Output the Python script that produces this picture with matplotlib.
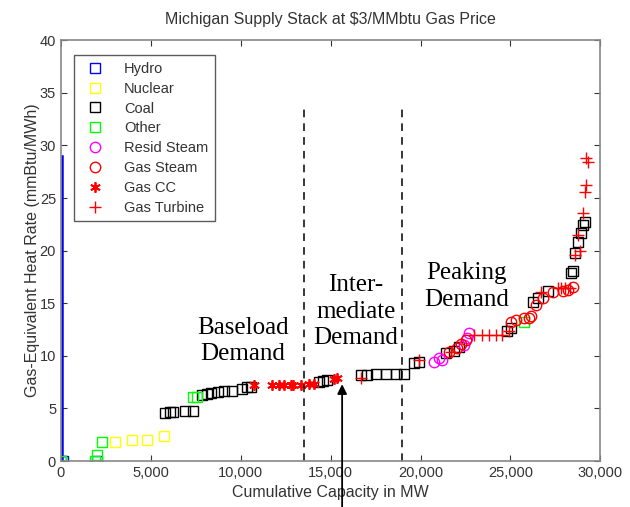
import matplotlib
matplotlib.use("Agg")
import matplotlib.pyplot as plt
from matplotlib.ticker import FuncFormatter

# ---- data (cumulative MW, gas-equivalent heat rate) ----
hydro_x = [0, 100, 2000]
hydro_y = [0, 0, 0]
hydro_line_x = [60, 60]
hydro_line_y = [0, 29]

nuclear_x = [2990, 3940, 4770, 5710]
nuclear_y = [1.8, 2.0, 2.0, 2.4]

coal_x = [5770, 6040, 6210, 6880, 7320, 7870, 8150, 8370, 8710, 9090, 9540,
          10090, 10370, 10590, 14360, 14580, 14800, 16690, 17020, 17520,
          18080, 18630, 19070, 19630, 19910, 21400, 21850, 22120, 24790,
          25060, 26280, 26560, 27120, 28390, 28500, 28610, 28780, 28950,
          29060, 29170]
coal_y = [4.6, 4.7, 4.7, 4.8, 4.8, 6.3, 6.4, 6.5, 6.6, 6.7, 6.7,
          6.8, 7.0, 7.0, 7.5, 7.6, 7.7, 8.2, 8.2, 8.3,
          8.3, 8.3, 8.3, 9.3, 9.4, 10.3, 10.5, 10.8, 12.4,
          12.6, 15.1, 15.5, 16.2, 17.9, 18.1, 19.8, 20.8, 21.7,
          22.4, 22.7]

other_x = [0, 1890, 2000, 2270, 7320, 7540, 25730]
other_y = [0, 0, 0.6, 1.8, 6.1, 6.1, 13.2]

resid_x = [20740, 21020, 21180, 22400, 22570, 22680]
resid_y = [9.4, 9.8, 9.6, 11.0, 11.7, 12.2]

gas_steam_x = [21570, 22010, 22240, 22510, 25060, 25340, 25730, 26010, 26170,
               26450, 26840, 27390, 27950, 28220, 28500]
gas_steam_y = [10.4, 10.7, 11.1, 11.5, 13.2, 13.4, 13.6, 13.6, 13.8,
               14.8, 15.5, 16.1, 16.2, 16.3, 16.5]

gas_cc_x = [10760, 11760, 12140, 12420, 12810, 12920, 13360, 13810, 14080,
            15190, 15360]
gas_cc_y = [7.2, 7.2, 7.2, 7.2, 7.2, 7.2, 7.2, 7.3, 7.3, 7.8, 7.9]

gas_turbine_x = [16690, 19910, 21680, 22960, 23400, 23790, 24180, 24510,
                 24900, 26730, 27670, 27840, 28060, 28330, 28610, 28780,
                 28890, 29060, 29170, 29220, 29220, 29330]
gas_turbine_y = [7.9, 9.6, 10.4, 12.0, 12.0, 12.0, 12.0, 12.0,
                 12.4, 16.1, 16.4, 16.4, 16.4, 16.4, 19.6, 21.5,
                 20.0, 23.6, 25.6, 26.2, 28.8, 28.4]

boundaries = [13530, 18960]
boundary_top = 33.5
arrow_x = 15640
arrow_tip = 7.3

xticks = [0, 5000, 10000, 15000, 20000, 25000, 30000]
yticks = [0, 5, 10, 15, 20, 25, 30, 35, 40]

plt.rcParams['font.family'] = ['Liberation Sans', 'DejaVu Sans']

fig = plt.figure(figsize=(6.3, 5.07), dpi=100)
ax = fig.add_axes([0.0968, 0.0907, 0.856, 0.830])

ms = 7.5
sq = dict(marker='s', linestyle='none', markerfacecolor='none', markersize=ms, markeredgewidth=1.0)
ax.plot(hydro_line_x, hydro_line_y, color='blue', lw=1.8, zorder=2)
ax.plot(hydro_x, hydro_y, color='blue', label='Hydro', **sq)
ax.plot(nuclear_x, nuclear_y, color='#ffff00', label='Nuclear', **sq)
ax.plot(coal_x, coal_y, color='black', label='Coal', **sq)
ax.plot(other_x, other_y, color='#00ff00', label='Other', **sq)
ax.plot(resid_x, resid_y, color='magenta', marker='o', linestyle='none',
        markerfacecolor='none', markersize=ms, label='Resid Steam')
ax.plot(gas_steam_x, gas_steam_y, color='red', marker='o', linestyle='none',
        markerfacecolor='none', markersize=ms, label='Gas Steam')
ax.plot(gas_cc_x, gas_cc_y, color='red', marker=(6, 2, 0), linestyle='none',
        markersize=ms, markeredgewidth=1.3, label='Gas CC')
ax.plot(gas_turbine_x, gas_turbine_y, color='red', marker='+', linestyle='none',
        markersize=ms + 1, markeredgewidth=1.0, label='Gas Turbine')

for b in boundaries:
    ax.plot([b, b], [0, boundary_top], color='black', linestyle=(0, (5, 4)), lw=1.1)

ax.annotate('', xy=(arrow_x, arrow_tip), xytext=(arrow_x, -4.6),
            arrowprops=dict(arrowstyle='-|>', color='black', lw=1.3,
                            mutation_scale=14, shrinkA=0, shrinkB=0),
            annotation_clip=False)

serif = dict(family=['Liberation Serif', 'DejaVu Serif'], fontsize=18,
             ha='center', va='center', linespacing=1.25)
ax.text(10130, 11.4, 'Baseload\nDemand', **serif)
ax.text(16410, 14.2, 'Inter-\nmediate\nDemand', **serif)
ax.text(22560, 16.6, 'Peaking\nDemand', **serif)

ax.set_xlim(0, 30000)
ax.set_ylim(0, 40)
ax.set_xticks(xticks)
ax.set_yticks(yticks)
ax.xaxis.set_major_formatter(FuncFormatter(lambda v, p: f'{int(v):,}'))
ax.tick_params(direction='in', top=True, right=True, labelsize=10.5,
               colors='#333333', length=4)
for s in ax.spines.values():
    s.set_color('#888888')
    s.set_linewidth(1.2)

ax.set_title('Michigan Supply Stack at $3/MMbtu Gas Price', fontsize=11.5,
             color='#333333', pad=12)
ax.set_xlabel('Cumulative Capacity in MW', fontsize=11.5, color='#333333', labelpad=4)
ax.set_ylabel('Gas-Equivalent Heat Rate (mmBtu/MWh)', fontsize=11.5, color='#333333', labelpad=0)

leg = ax.legend(loc='upper left', bbox_to_anchor=(0.024, 0.964), fontsize=10.5,
                frameon=True, fancybox=False, edgecolor='#333333',
                handletextpad=1.0, labelspacing=0.4, borderpad=0.45,
                handlelength=2.0, borderaxespad=0)
leg.get_frame().set_linewidth(1.0)
for t in leg.get_texts():
    t.set_color('#333333')

fig.savefig('out.png', dpi=100)
